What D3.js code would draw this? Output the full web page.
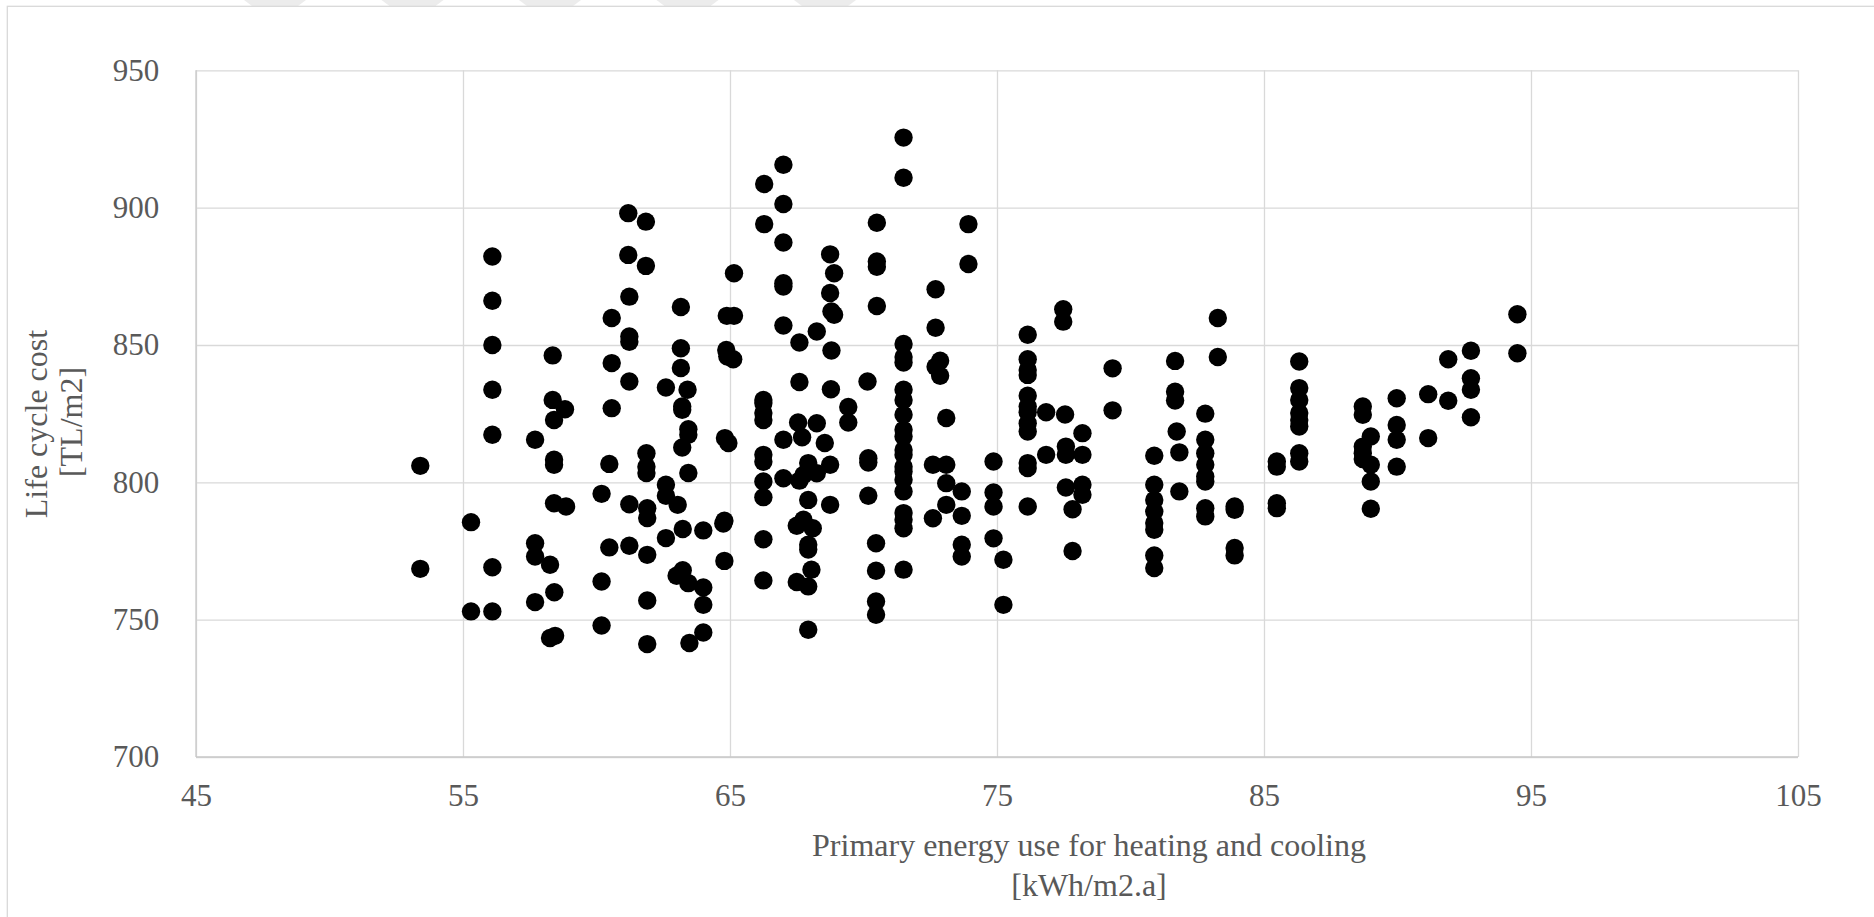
<!DOCTYPE html>
<html>
<head>
<meta charset="utf-8">
<script src="https://cdnjs.cloudflare.com/ajax/libs/d3/7.8.5/d3.min.js"></script>
<style>
    body { margin: 0; background: #ffffff; }
    svg { display: block; }
    .tick text { font-family: "Liberation Serif", "Times New Roman", serif; fill: #595959; }
    .aTitle { font-family: "Liberation Serif", "Times New Roman", serif; fill: #595959; font-size: 32px; }
</style>
</head>
<body>
<div id="scatter"></div>
<script>
// DATA

// Primary energy use [kWh/m2.a], one line per column of points
var energyUse = [
    53.4, 53.4,
    55.3, 55.3,
    56.1, 56.1, 56.1, 56.1, 56.1, 56.1, 56.1,
    57.7, 57.7, 57.7, 57.7,
    58.36, 58.36, 58.41, 58.41, 58.41, 58.41, 58.26, 58.42, 58.26, 58.45,
    58.82, 58.86,
    60.19, 60.19, 60.19,
    60.57, 60.57, 60.57, 60.48, 60.48,
    61.19, 61.19, 61.23, 61.23, 61.23, 61.23, 61.23, 61.23,
    61.85, 61.85, 61.87, 61.87, 61.87, 61.9, 61.9, 61.9, 61.9, 61.9,
    62.6, 62.6, 62.6, 62.6,
    63.16, 63.16, 63.16, 63.41, 63.21, 63.21, 63.44, 63.44, 63.21, 63.44, 63.04, 63.23, 63.23, 63.0, 63.44, 63.48,
    64.0, 64.0, 64.0, 64.0,
    64.88, 64.86, 64.9, 64.81, 64.94, 64.79, 64.75, 64.79,
    65.15, 65.15, 65.12,
    66.28, 66.28, 66.25, 66.25, 66.25, 66.25, 66.25, 66.25, 66.25, 66.25, 66.25, 66.25,
    67.0, 67.0, 67.0, 67.0, 67.0, 67.0, 67.0, 67.0,
    67.6, 67.6, 67.55, 67.7, 67.93, 67.75, 67.6, 67.93, 67.75, 67.5, 68.1, 67.93, 67.93, 68.05, 67.5, 67.93, 67.93,
    68.25, 68.25, 68.55, 68.25, 68.75, 68.75,
    68.75, 68.9, 68.75, 68.8, 68.9, 68.8, 68.78,
    69.43, 69.43,
    70.15, 70.18, 70.18, 70.18,
    70.5, 70.5, 70.5, 70.5, 70.47, 70.47, 70.47, 70.47,
    71.5, 71.5, 71.5, 71.5, 71.5, 71.5, 71.5, 71.5, 71.5, 71.5, 71.5, 71.5, 71.5, 71.5, 71.5, 71.5, 71.5, 71.5, 71.5, 71.5,
    72.7, 72.7, 72.87, 72.7, 72.87, 73.1, 72.6, 73.1, 73.1, 73.1, 72.6,
    73.93, 73.93, 73.68, 73.68, 73.68, 73.68,
    74.87, 74.87, 74.87, 74.87,
    75.24, 75.24,
    76.15, 76.15, 76.15, 76.15, 76.15, 76.15, 76.15, 76.15, 76.15, 76.15, 76.15, 76.15,
    76.84, 76.84,
    77.48, 77.48, 77.55, 77.58, 77.58, 77.58, 77.83, 77.83,
    78.2, 78.2, 78.2, 78.2,
    79.33, 79.33,
    80.89, 80.89, 80.89, 80.89, 80.89, 80.89, 80.89, 80.89,
    81.67, 81.67, 81.67, 81.73, 81.83, 81.83,
    82.8, 82.8, 82.8, 82.8, 82.8, 82.8, 82.8, 82.8,
    83.27, 83.27,
    83.9, 83.9, 83.9, 83.9,
    85.48, 85.48, 85.48, 85.48,
    86.32, 86.32, 86.32, 86.32, 86.32, 86.32, 86.32, 86.32,
    88.7, 88.7, 88.7, 88.7, 88.7,
    89.0, 89.0, 89.0, 89.0,
    89.97, 89.97, 89.97, 89.97,
    91.15, 91.15,
    91.9, 91.9,
    92.75, 92.75, 92.75, 92.75,
    94.49, 94.49
];

// Life cycle cost [TL/m2], same order as energyUse
var lifeCycleCost = [
    806.0, 768.5,
    785.5, 753.0,
    882.2, 866.1, 850.0, 833.7, 817.3, 769.1, 753.0,
    815.5, 777.8, 773.0, 756.4,
    846.2, 830.0, 822.7, 808.2, 806.4, 792.4, 770.0, 760.0, 743.3, 744.1,
    826.6, 791.2,
    795.8, 763.9, 747.9,
    859.8, 843.4, 827.0, 806.7, 776.3,
    898.0, 882.8, 867.6, 853.1, 851.2, 836.7, 792.0, 776.9,
    894.9, 878.8, 810.6, 805.7, 803.4, 790.6, 787.0, 773.6, 757.0, 741.1,
    834.5, 799.1, 795.1, 779.7,
    863.8, 848.8, 841.6, 833.7, 827.6, 826.4, 819.3, 817.3, 812.7, 803.4, 791.8, 783.0, 768.0, 766.0, 763.3, 741.5,
    782.5, 761.7, 755.4, 745.3,
    860.6, 848.2, 845.8, 816.1, 814.3, 786.0, 785.0, 771.4,
    876.1, 860.6, 844.8,
    908.6, 894.0, 830.0, 828.9, 825.2, 822.7, 810.0, 807.5, 800.3, 794.6, 779.3, 764.3,
    915.6, 901.3, 887.3, 872.5, 871.3, 857.1, 815.5, 801.5,
    850.9, 836.5, 821.8, 816.4, 807.0, 802.7, 800.6, 793.6, 786.4, 784.2, 783.3, 777.3, 775.5, 768.2, 763.7, 762.1, 746.3,
    854.9, 821.5, 814.3, 803.3, 806.4, 791.8,
    883.0, 876.1, 868.9, 862.2, 861.0, 848.0, 833.9,
    827.4, 821.8,
    836.7, 808.8, 807.2, 795.1,
    894.5, 880.4, 878.5, 864.2, 777.8, 767.8, 756.6, 751.8,
    925.5, 910.9, 850.4, 845.6, 843.6, 833.7, 830.0, 824.6, 819.1, 816.7, 811.8, 810.0, 805.7, 803.9, 800.9, 796.7, 788.8, 786.4, 783.3, 768.2,
    870.3, 856.3, 844.3, 842.1, 838.8, 823.4, 806.4, 806.4, 799.7, 791.8, 786.9,
    894.0, 879.5, 796.7, 787.8, 777.3, 773.0,
    807.6, 796.3, 791.2, 779.6,
    771.8, 755.4,
    853.7, 844.8, 840.9, 839.1, 831.5, 827.6, 825.5, 821.5, 818.5, 807.0, 805.2, 791.2,
    825.5, 810.0,
    863.0, 858.5, 824.7, 813.0, 810.0, 798.1, 790.2, 775.0,
    817.9, 810.0, 799.1, 795.5,
    841.5, 826.2,
    809.7, 799.1, 793.6, 789.4, 785.2, 782.7, 773.4, 768.8,
    844.2, 833.0, 829.8, 818.5, 810.9, 796.7,
    825.0, 815.5, 810.6, 806.4, 802.1, 800.3, 790.6, 787.6,
    859.8, 845.6,
    791.2, 790.0, 776.1, 773.4,
    807.6, 805.7, 792.4, 790.6,
    844.0, 834.3, 830.0, 825.2, 822.7, 820.3, 810.6, 807.6,
    827.6, 824.6, 813.0, 810.6, 808.5,
    816.7, 806.4, 800.3, 790.4,
    830.6, 820.9, 815.5, 805.7,
    832.1, 816.1,
    844.8, 829.7,
    847.9, 837.9, 833.7, 823.7,
    861.2, 847.0
];

// Tick labels
var xTicks = [45, 55, 65, 75, 85, 95, 105];
var yTicks = [700, 750, 800, 850, 900, 950];

// Axis titles
var xTitle = ["Primary energy use for heating and cooling", "[kWh/m2.a]"];
var yTitle = ["Life cycle cost", "[TL/m2]"];

// CHART SETUP

var width = 1874;
var height = 917;
var plotLeft = 196;
var plotRight = 1798;
var plotTop = 70.3;
var plotBottom = 757;
var circRadius = 9.2;

var svg = d3
    .select("#scatter")
    .append("svg")
    .attr("width", width)
    .attr("height", height);

// faint shapes peeking in above the chart frame
var bandCount = d3.range(5);
svg.selectAll("polygon.band")
    .data(bandCount)
    .enter()
    .append("polygon")
    .attr("class", "band")
    .attr("points", function(i) {
        var cx = 275 + 137.5 * i;
        return [[cx - 31, 0], [cx + 31, 0], [cx + 23, 6], [cx - 23, 6]].join(" ");
    })
    .attr("fill", "#ececec");

// Outer chart frame (runs off the right and bottom edges)
svg.append("rect")
    .attr("x", 7.3)
    .attr("y", 6.3)
    .attr("width", width + 20)
    .attr("height", height + 20)
    .attr("fill", "none")
    .attr("stroke", "#d9d9d9")
    .attr("stroke-width", 1.3);

// SCALES

var xScale = d3.scaleLinear().domain([45, 105]).range([plotLeft, plotRight]);
var yScale = d3.scaleLinear().domain([700, 950]).range([plotBottom, plotTop]);

// GRIDLINES

svg.append("g")
    .attr("class", "xGrid")
    .attr("transform", "translate(0," + plotBottom + ")")
    .call(d3.axisBottom(xScale).tickValues(xTicks).tickSize(-(plotBottom - plotTop)).tickFormat(""))
    .call(function(g) { g.select(".domain").remove(); })
    .selectAll("line")
    .attr("stroke", "#d9d9d9")
    .attr("stroke-width", 1.3);

svg.append("g")
    .attr("class", "yGrid")
    .attr("transform", "translate(" + plotLeft + ",0)")
    .call(d3.axisLeft(yScale).tickValues(yTicks).tickSize(-(plotRight - plotLeft)).tickFormat(""))
    .call(function(g) { g.select(".domain").remove(); })
    .selectAll("line")
    .attr("stroke", "#d9d9d9")
    .attr("stroke-width", 1.3);

// Bottom and left axis lines a touch darker
svg.append("line")
    .attr("x1", plotLeft).attr("x2", plotRight)
    .attr("y1", yScale(700)).attr("y2", yScale(700))
    .attr("stroke", "#c9c9c9").attr("stroke-width", 1.3);
svg.append("line")
    .attr("x1", xScale(45)).attr("x2", xScale(45))
    .attr("y1", plotTop).attr("y2", plotBottom)
    .attr("stroke", "#c9c9c9").attr("stroke-width", 1.3);

// TICK LABELS

var xAxis = svg.append("g")
    .attr("class", "xAxis")
    .attr("transform", "translate(0," + plotBottom + ")")
    .call(d3.axisBottom(xScale).tickValues(xTicks).tickSize(0).tickPadding(27));
xAxis.select(".domain").remove();
xAxis.selectAll("text").style("font-size", "31px");

var yAxis = svg.append("g")
    .attr("class", "yAxis")
    .attr("transform", "translate(" + plotLeft + ",0)")
    .call(d3.axisLeft(yScale).tickValues(yTicks).tickSize(0).tickPadding(36.7));
yAxis.select(".domain").remove();
yAxis.selectAll("text").style("font-size", "31px");

// AXIS TITLES

svg.selectAll("text.xTitle")
    .data(xTitle)
    .enter()
    .append("text")
    .attr("class", "aTitle xTitle")
    .attr("x", 1089)
    .attr("y", function(d, i) { return 856 + i * 39.5; })
    .attr("text-anchor", "middle")
    .text(function(d) { return d; });

svg.selectAll("text.yTitle")
    .data(yTitle)
    .enter()
    .append("text")
    .attr("class", "aTitle yTitle")
    .attr("text-anchor", "middle")
    .attr("transform", function(d, i) {
        return "translate(" + (47 + i * 35) + "," + (424 - i * 2) + ")rotate(-90)";
    })
    .text(function(d) { return d; });

// POINTS

var points = d3.range(energyUse.length);
svg.append("g")
    .attr("class", "points")
    .selectAll("circle")
    .data(points)
    .enter()
    .append("circle")
    .attr("cx", function(i) { return xScale(energyUse[i]); })
    .attr("cy", function(i) { return yScale(lifeCycleCost[i]); })
    .attr("r", circRadius)
    .attr("fill", "#000000");
</script>
</body>
</html>
